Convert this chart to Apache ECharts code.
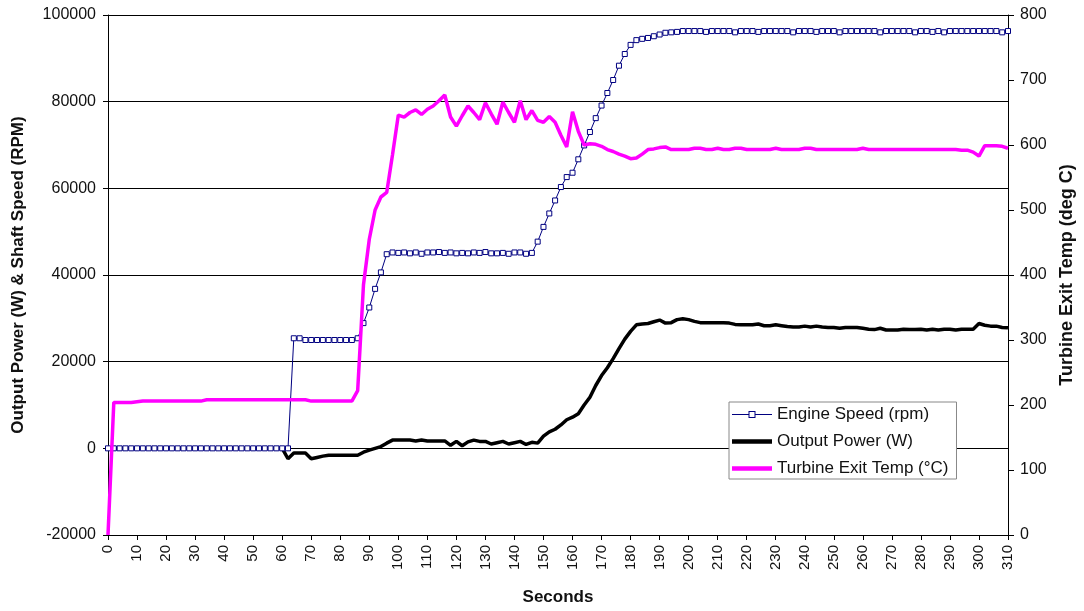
<!DOCTYPE html>
<html>
<head>
<meta charset="utf-8">
<script src="https://cdn.jsdelivr.net/npm/echarts@6/dist/echarts.min.js"></script>
<style>html,body{margin:0;padding:0;background:#fff;}#chart{width:1084px;height:611px;}</style>
</head>
<body>
<div id="chart"></div>
<script>
const seconds = [0,2,4,6,8,10,12,14,16,18,20,22,24,26,28,30,32,34,36,38,40,42,44,46,48,50,52,54,56,58,
60,62,64,66,68,70,72,74,76,78,80,82,84,86,88,90,92,94,96,98,
100,102,104,106,108,110,112,114,116,118,120,122,124,126,128,130,132,134,136,138,140,142,144,146,148,
150,152,154,156,158,160,162,164,166,168,170,172,174,176,178,180,182,184,186,188,190,192,194,196,198,
200,202,204,206,208,210,212,214,216,218,220,222,224,226,228,230,232,234,236,238,240,242,244,246,248,
250,252,254,256,258,260,262,264,266,268,270,272,274,276,278,280,282,284,286,288,290,292,294,296,298,
300,302,304,306,308,310];

const engineSpeed = [0,0,0,0,0,0,0,0,0,0,0,0,0,0,0,0,0,0,0,0,0,0,0,0,0,0,0,0,0,0,0,0,
25400,25400,25000,25000,25000,25000,25000,25000,25000,25000,25000,25400,
28900,32500,36800,40600,44800,45200,
45100,45200,45000,45200,44900,45200,45200,45300,45100,45200,45000,45100,45000,45200,45100,45300,45000,45000,45100,44900,45200,45200,44900,45100,
47700,51100,54200,57200,60300,62600,63600,66700,69900,73000,76200,79100,82000,85000,88300,91000,93100,94200,94500,94700,95100,95500,95900,96000,96100,
96300,96300,96300,96300,96100,96300,96300,96300,96300,96000,96300,96300,96300,96100,96300,96300,96300,96300,96300,96000,
96300,96300,96300,96100,96300,96300,96300,96000,96300,96300,96300,96300,96300,96300,96000,96300,96300,96300,96300,96300,
96000,96300,96300,96100,96300,96000,96300,96300,96300,96300,96300,96300,96300,96300,96300,96000,96300];

const outputPower = [0,0,0,0,0,0,0,0,0,0,0,0,0,0,0,0,0,0,0,0,0,0,0,0,0,0,0,0,0,0,
0,-2400,-1100,-1100,-1100,-2400,-2100,-1800,-1600,-1600,-1600,-1600,-1600,-1600,-900,-400,0,400,1200,1900,
1900,1900,1900,1700,1900,1700,1700,1700,1700,700,1600,600,1500,1900,1600,1600,1000,1300,1600,1000,1300,1600,900,1400,1200,
2800,3800,4400,5400,6600,7200,8000,10000,11800,14500,16800,18600,20700,23000,25200,27000,28500,28700,28800,29200,29600,28900,29000,29700,29900,
29700,29300,29000,29000,29000,29000,29000,28900,28600,28500,28500,28500,28700,28300,28300,28500,28300,28100,28000,28000,
28200,28000,28200,28000,27900,27900,27700,27900,27900,27900,27700,27500,27400,27700,27300,27300,27300,27500,27400,27400,
27500,27300,27500,27300,27500,27500,27300,27500,27500,27500,28800,28400,28200,28200,27900,27800];

const turbineTemp = [0,204,204,204,204,205,206,206,206,206,206,206,206,206,206,206,206,
208,208,208,208,208,208,208,208,208,208,208,208,208,208,208,208,208,208,
206,206,206,206,206,206,206,206,
222,385,455,500,520,527,585,
646,643,650,654,647,655,660,668,677,643,629,645,660,650,639,665,648,632,666,650,635,668,639,653,638,635,644,635,615,597,
651,621,600,602,601,598,593,590,586,583,579,580,586,593,594,596,597,593,593,
593,593,595,595,593,593,595,593,593,595,595,593,593,593,593,593,595,593,593,593,
593,595,595,593,593,593,593,593,593,593,593,595,593,593,593,593,593,593,593,593,
593,593,593,593,593,593,593,593,592,592,
589,583,599,599,599,598,595];

const leftTicks = {min: -20000, max: 100000, interval: 20000};
const rightTicks = {min: 0, max: 800, interval: 100};
const seriesNames = ['Engine Speed (rpm)', 'Output Power (W)', 'Turbine Exit Temp (\u00B0C)'];

const pair = (vals) => seconds.map((t, i) => [t, vals[i]]);
const FONT = "'Liberation Sans', Arial, sans-serif";

const speedIcon = 'path://M0,6.5H16.5V7.5H0Z M23.5,6.5H40V7.5H23.5Z M16.5,3.5H23.5V4.5H16.5Z M16.5,9.5H23.5V10.5H16.5Z M16.5,3.5H17.5V10.5H16.5Z M22.5,3.5H23.5V10.5H22.5Z';
const thickIcon = 'path://M0,0H40V4.5H0Z';

const chart = echarts.init(document.getElementById('chart'));
chart.setOption({
  animation: false,
  backgroundColor: '#fff',
  grid: {left: 108, right: 71, top: 15, bottom: 72, containLabel: false},
  legend: {
    data: [
      {name: seriesNames[0], icon: speedIcon, itemStyle: {color: '#000080', borderWidth: 0}},
      {name: seriesNames[1], icon: thickIcon, itemStyle: {color: '#000', borderWidth: 0}},
      {name: seriesNames[2], icon: thickIcon, itemStyle: {color: '#ff00ff', borderWidth: 0}}
    ],
    orient: 'vertical',
    left: 729, top: 402,
    padding: [4, 8, 2, 3],
    itemGap: 10,
    itemWidth: 40, itemHeight: 14,
    backgroundColor: '#fff',
    borderColor: '#888', borderWidth: 1, borderRadius: 0,
    textStyle: {fontFamily: FONT, fontSize: 17, color: '#111'}
  },
  xAxis: {
    type: 'value', min: 0, max: 310, interval: 10,
    name: 'Seconds', nameLocation: 'middle', nameGap: 54,
    nameTextStyle: {fontFamily: FONT, fontSize: 17, fontWeight: 'bold', color: '#111'},
    axisLine: {onZero: false, lineStyle: {color: '#000', width: 1}},
    axisTick: {show: true, length: 5, lineStyle: {color: '#000'}},
    axisLabel: {rotate: 90, fontFamily: FONT, fontSize: 15, color: '#111', margin: 10},
    splitLine: {show: false}
  },
  yAxis: [{
    type: 'value', position: 'left', min: leftTicks.min, max: leftTicks.max, interval: leftTicks.interval,
    name: 'Output Power (W) & Shaft Speed (RPM)', nameLocation: 'middle', nameGap: 81,
    nameTextStyle: {fontFamily: FONT, fontSize: 17, fontWeight: 'bold', color: '#111'},
    axisLine: {show: true, lineStyle: {color: '#000', width: 1}},
    axisTick: {show: true, length: 5, lineStyle: {color: '#000'}},
    axisLabel: {fontFamily: FONT, fontSize: 16, color: '#111', margin: 12, formatter: v => String(v)},
    splitLine: {show: true, lineStyle: {color: '#000', width: 1}}
  }, {
    type: 'value', position: 'right', min: rightTicks.min, max: rightTicks.max, interval: rightTicks.interval,
    name: 'Turbine Exit Temp (deg C)', nameLocation: 'middle', nameGap: 50,
    nameTextStyle: {fontFamily: FONT, fontSize: 18, fontWeight: 'bold', color: '#111'},
    axisLine: {show: true, lineStyle: {color: '#000', width: 1}},
    axisTick: {show: true, length: 6, lineStyle: {color: '#000'}},
    axisLabel: {fontFamily: FONT, fontSize: 16, color: '#111', margin: 12},
    splitLine: {show: false}
  }],
  series: [{
    name: seriesNames[1], type: 'line', yAxisIndex: 0, data: pair(outputPower),
    showSymbol: false, symbol: 'none', z: 2,
    lineStyle: {color: '#000', width: 3.5}, itemStyle: {color: '#000'}
  }, {
    name: seriesNames[0], type: 'line', yAxisIndex: 0, data: pair(engineSpeed),
    symbol: 'rect', symbolSize: 5, showSymbol: true, z: 3,
    lineStyle: {color: '#000080', width: 1},
    itemStyle: {color: '#fff', borderColor: '#000080', borderWidth: 1}
  }, {
    name: seriesNames[2], type: 'line', yAxisIndex: 1, data: pair(turbineTemp),
    showSymbol: false, symbol: 'none', z: 4,
    lineStyle: {color: '#ff00ff', width: 3.5}, itemStyle: {color: '#ff00ff'}
  }]
});
</script>
</body>
</html>
